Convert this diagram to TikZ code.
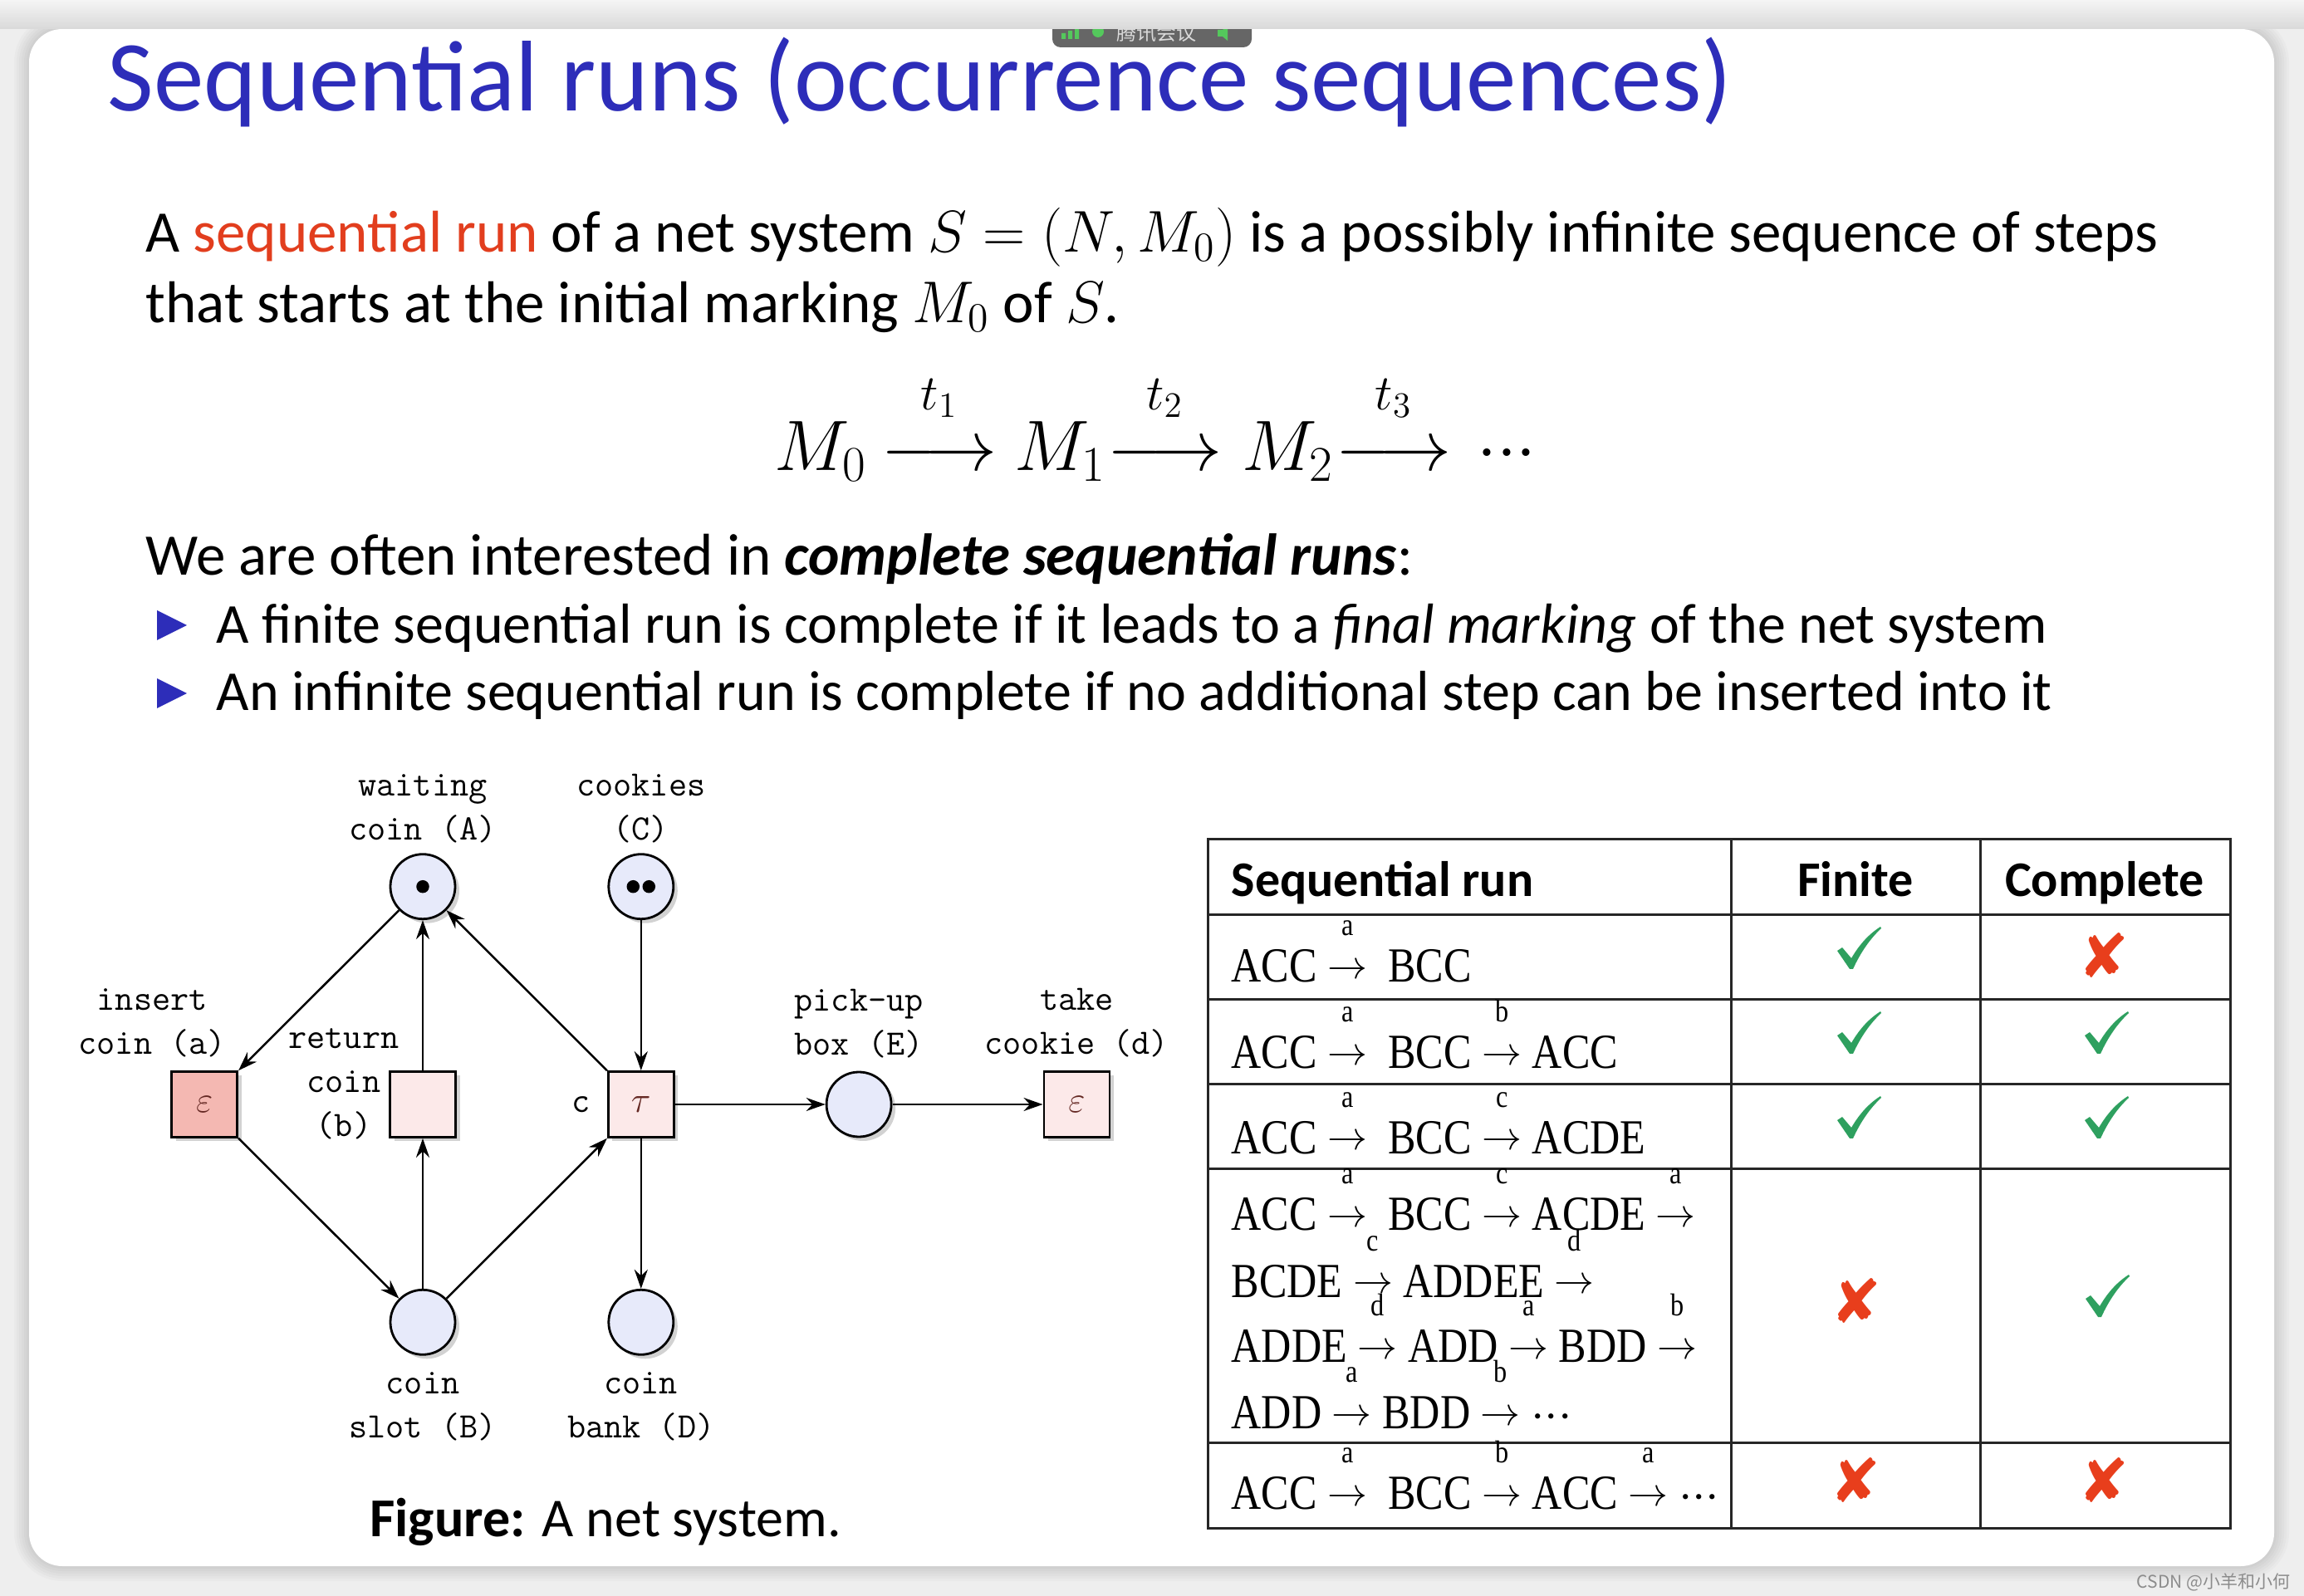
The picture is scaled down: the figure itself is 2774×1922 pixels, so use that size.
\RequirePackage{fix-cm}
\documentclass[tikz,border=0pt]{standalone}
\usepackage{amsmath}
\usepackage[no-math]{fontspec}
\setmainfont{Carlito}
\newfontfamily\fuenteserif[FakeStretch=0.85]{Liberation Serif}
\newfontfamily\fuentesimbolo{DejaVu Sans}
\newfontfamily\fuentecjk{Noto Sans CJK SC}
\usetikzlibrary{positioning,arrows.meta,shadows}

\definecolor{azulslide}{RGB}{45,45,185}
\definecolor{rojoslide}{RGB}{226,62,30}
\definecolor{lugarfill}{RGB}{231,234,250}
\definecolor{transfill}{RGB}{252,233,233}
\definecolor{transfuerte}{RGB}{244,184,178}
\definecolor{simbolo}{RGB}{100,40,35}
\definecolor{verdeok}{RGB}{46,160,95}
\definecolor{rojomal}{RGB}{232,62,28}
\definecolor{fondo}{RGB}{238,238,238}
\definecolor{barra}{RGB}{102,102,102}
\definecolor{verdebarra}{RGB}{84,200,92}

% paso etiquetado de una corrida (tabla)
\newcommand\paso[1]{\makebox[4.8mm]{\fontsize{4.8mm}{5mm}\selectfont\raisebox{0.4mm}{$\rightarrow$}}%
  \llap{\makebox[4.8mm]{\raisebox{5.6mm}{\fontsize{3.8mm}{4mm}\selectfont #1}}}}
% paso de la ecuacion
\newcommand\pasoM[1]{\overset{\raisebox{2.4mm}{$\scriptstyle #1$}}{\longrightarrow}}
\newcommand\puntos{\ensuremath{\mathinner{\cdotp\mkern-3mu\cdotp\mkern-3mu\cdotp}}}

\tikzset{
  lugar/.style     = {circle, draw, fill=lugarfill, minimum size=7.8mm, inner sep=0pt,
                      line width=0.28mm, drop shadow={shadow xshift=0.5mm, shadow yshift=-0.5mm, opacity=0.35}},
  trans/.style     = {rectangle, draw, fill=transfill, minimum size=7.9mm, inner sep=0pt,
                      line width=0.28mm, text=simbolo, font=\fontsize{4.4mm}{5mm}\selectfont,
                      drop shadow={shadow xshift=0.5mm, shadow yshift=-0.5mm, opacity=0.35}},
  transroja/.style = {trans, fill=transfuerte},
  ficha/.style     = {circle, fill=black, minimum size=1.55mm, inner sep=0pt},
  etiqueta/.style  = {font=\fontsize{4.3mm}{5.3mm}\selectfont\ttfamily, align=center, inner sep=0pt},
  flecha/.style    = {-{Stealth[length=2.3mm, width=1.6mm]}, line width=0.25mm},
  titulo/.style    = {anchor=base west, inner sep=0pt, text=azulslide, font=\fontsize{12.1mm}{14mm}\selectfont},
  texto/.style     = {anchor=base west, inner sep=0pt, font=\fontsize{7.1mm}{8.5mm}\selectfont},
  vineta/.style    = {texto, font=\fontsize{6.8mm}{8.5mm}\selectfont},
  fila/.style      = {anchor=base west, inner sep=0pt, font=\fuenteserif\fontsize{5.9mm}{7.9mm}\selectfont},
  cabecera/.style  = {anchor=base, inner sep=0pt, font=\bfseries\fontsize{6mm}{7mm}\selectfont},
  marcaok/.style   = {fill=verdeok},
  marcamal/.style  = {inner sep=0pt, text=rojomal, font=\fuentesimbolo\fontsize{7.3mm}{8mm}\selectfont},
  rejilla/.style   = {line width=0.3mm, draw=black!85}
}

\begin{document}
\begin{tikzpicture}[x=0.1mm, y=-0.1mm, node distance=18.1mm]
  \useasboundingbox (0,0) rectangle (2774,1922);

  % marco de la captura
  \fill[fondo] (0,0) rectangle (2774,1922);
  \foreach \k in {0.6,1.2,...,3.6}
    \draw[black, opacity=0.018, line width=\k mm, rounded corners=4mm] (35,35) rectangle (2738,1886);
  \fill[white, rounded corners=4mm] (35,35) rectangle (2738,1886);

  % barra de la reunion
  \fill[barra, rounded corners=1mm] (1267,20) rectangle (1507,57);
  \fill[verdebarra] (1278,40) rectangle (1283,47) (1286,37) rectangle (1291,47) (1294,34) rectangle (1299,47);
  \fill[verdebarra] (1322,38) circle (0.7mm);
  \node[inner sep=0pt, text=black!15, font=\fuentecjk\fontsize{2.4mm}{3mm}\selectfont] (reunion) at (1392,40) {腾讯会议};
  \fill[verdebarra] (1466,36) -- (1472,36) -- (1478,31) -- (1478,49) -- (1472,44) -- (1466,44) -- cycle;
  \shade[top color=black!4, bottom color=black!15] (0,0) rectangle (2774,35);

  % texto
  \node[titulo] (tit) at (129,134) {Sequential runs (occurrence sequences)};
  \node[texto] (def1) at (175,304) {A \textcolor{rojoslide}{sequential run} of a net system $S=(N,M_0)$ is a possibly infinite sequence of steps};
  \node[texto] (def2) at (175,389) {that starts at the initial marking $M_0$ of $S$.};
  \node[anchor=base west, inner sep=0pt, font=\fontsize{8.6mm}{10mm}\selectfont] (corrida) at (932,567)
    {$M_0 \mkern-1.2mu \pasoM{t_1} \mkern-0.6mu M_1 \mkern-4.8mu \pasoM{t_2} M_2 \mkern-4.5mu \pasoM{t_3} \mkern1.5mu \mathinner{\cdotp\mkern-3mu\cdotp\mkern-3mu\cdotp}$};
  \node[texto] (interes) at (175,693) {We are often interested in \textbf{\textit{complete sequential runs}}:};
  \fill[azulslide] (189,735) -- (225,753) -- (189,771) -- cycle;
  \node[vineta] (item1) at (260,775) {A finite sequential run is complete if it leads to a \textit{final marking} of the net system};
  \fill[azulslide] (189,817) -- (225,835) -- (189,853) -- cycle;
  \node[vineta] (item2) at (260,856) {An infinite sequential run is complete if no additional step can be inserted into it};

  % red
  \node[trans] (b) at (509,1330) {};
  \node[transroja, left=of b] (a) {$\varepsilon$};
  \node[trans, right=of b] (c) {$\tau$};
  \node[lugar, right=of c] (E) {};
  \node[trans, right=of E] (d) {$\varepsilon$};
  \node[lugar, above=of b] (A) {};
  \node[lugar, above=of c] (C) {};
  \node[lugar, below=of b] (B) {};
  \node[lugar, below=of c] (D) {};
  \node[ficha] (fA) at (A) {};
  \node[ficha] (fC1) at ([xshift=-0.95mm]C.center) {};
  \node[ficha] (fC2) at ([xshift=0.95mm]C.center) {};

  \node[etiqueta, above=1.2mm of A] (lA) {waiting\\coin (A)};
  \node[etiqueta, above=1.2mm of C] (lC) {cookies\\(C)};
  \node[etiqueta, above=1.5mm of a, xshift=-6.3mm] (la) {insert\\coin (a)};
  \node[etiqueta, left=-1.3mm of b, yshift=2.5mm] (lb) {return\\coin\\(b)};
  \node[etiqueta, left=2mm of c] (lc) {c};
  \node[etiqueta, above=1.5mm of E] (lE) {pick-up\\box (E)};
  \node[etiqueta, above=1.5mm of d] (ld) {take\\cookie (d)};
  \node[etiqueta, below=1.9mm of B] (lB) {coin\\slot (B)};
  \node[etiqueta, below=1.9mm of D] (lD) {coin\\bank (D)};

  \draw[flecha] (A) -- (a);
  \draw[flecha] (a) -- (B);
  \draw[flecha] (B) -- (b);
  \draw[flecha] (b) -- (A);
  \draw[flecha] (B) -- (c);
  \draw[flecha] (c) -- (A);
  \draw[flecha] (C) -- (c);
  \draw[flecha] (c) -- (D);
  \draw[flecha] (c) -- (E);
  \draw[flecha] (E) -- (d);

  \node[anchor=base, inner sep=0pt, font=\fontsize{6.6mm}{8mm}\selectfont] (pie) at (729,1850) {\textbf{Figure:} A net system.};

  % tabla
  \draw[rejilla] (1454,1011) rectangle (2685,1840);
  \foreach \y in {1102,1204,1306,1408,1737}
    \draw[rejilla] (1454,\y) -- (2685,\y);
  \draw[rejilla] (2084,1011) -- (2084,1840);
  \draw[rejilla] (2384,1011) -- (2384,1840);

  \node[cabecera, anchor=base west] (h1) at (1482,1080) {Sequential run};
  \node[cabecera] (h2) at (2234,1080) {Finite};
  \node[cabecera] (h3) at (2534,1080) {Complete};

  \node[fila] (r1) at (1482,1183) {ACC \paso{a} \ BCC};
  \node[fila] (r2) at (1482,1287) {ACC \paso{a} \ BCC \paso{b} ACC};
  \node[fila] (r3) at (1482,1389) {ACC \paso{a} \ BCC \paso{c} ACDE};
  \node[fila] (r4a) at (1482,1482) {ACC \paso{a} \ BCC \paso{c} ACDE \paso{a}};
  \node[fila] (r4b) at (1482,1562) {BCDE \paso{c} ADDEE \paso{d}};
  \node[fila] (r4c) at (1482,1640) {ADDE \paso{d} ADD \paso{a} BDD \paso{b}};
  \node[fila] (r4d) at (1482,1720) {ADD \paso{a} BDD \paso{b} \puntos};
  \node[fila] (r5) at (1482,1817) {ACC \paso{a} \ BCC \paso{b} ACC \paso{a} \puntos};

  % marcas de la tabla
  \foreach \x/\y in {2238/1142, 2238/1244, 2536/1244, 2238/1346, 2536/1346, 2537/1561}
    \fill[marcaok, shift={(\x,\y)}] (-26,3) -- (-20,-1) -- (-9,12) .. controls (1,-5) and (12,-17) .. (26,-26)
      -- (27,-24) .. controls (14,-12) and (2,5) .. (-7,25) -- (-11,25) -- cycle;
  \node[marcamal] (c1) at (2533,1151) {✘};
  \node[marcamal] (f4) at (2235,1567) {✘};
  \node[marcamal] (f5) at (2234,1783) {✘};
  \node[marcamal] (c5) at (2533,1783) {✘};

  \node[anchor=base east, inner sep=0pt, text=black!45, font=\fuentecjk\fontsize{2.1mm}{3mm}\selectfont] (marca) at (2758,1912) {CSDN @小羊和小何};
\end{tikzpicture}
\end{document}
